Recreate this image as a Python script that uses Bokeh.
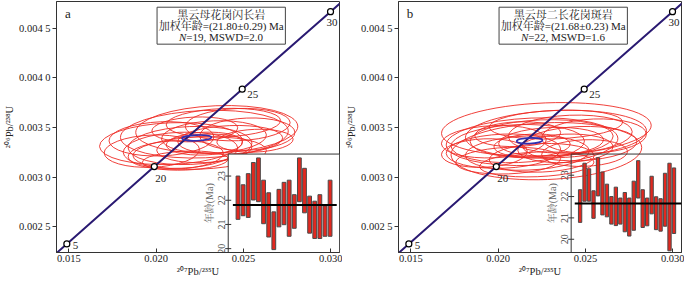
import math
from bokeh.plotting import figure
from bokeh.layouts import row
from bokeh.models import Range1d, FixedTicker, CustomJSTickFormatter, Label, BoxAnnotation
from bokeh.core.properties import value
from bokeh.embed import file_html
from bokeh.resources import INLINE

# ---------------- data ----------------
conc_x = [0.013883, 0.014882, 0.019892, 0.024927, 0.029986, 0.031001]
conc_y = [0.0021741, 0.0023296, 0.0031075, 0.0038855, 0.0046646, 0.0048205]
mark_labels = ["5", "20", "25", "30"]
mark_x = [0.014882, 0.019892, 0.024927, 0.029986]
mark_y = [0.0023296, 0.0031075, 0.0038855, 0.0046646]

x_ticks = [0.015, 0.020, 0.025, 0.030]
x_tick_labels = ["0.015", "0.020", "0.025", "0.030"]
y_ticks = [0.0025, 0.0030, 0.0035, 0.0040, 0.0045]
y_tick_labels = ["0.002 5", "0.003 0", "0.003 5", "0.004 0", "0.004 5"]
inset_y_ticks = [20, 21, 22, 23]

# panel a ellipses (207Pb/235U, 206Pb/238U, full widths)
a_ell_x = [0.02347, 0.02276, 0.02085, 0.02194, 0.02331, 0.02139, 0.02424, 0.02249, 0.02030, 0.02385,
           0.02522, 0.02221, 0.02112, 0.02276, 0.02467, 0.01975, 0.02566, 0.02167, 0.02276]
a_ell_y = [0.003481, 0.003433, 0.003338, 0.003319, 0.003405, 0.003271, 0.003376, 0.003243, 0.003386, 0.003548,
           0.003433, 0.003481, 0.003224, 0.003338, 0.003529, 0.003262, 0.003367, 0.003167, 0.003290]
a_ell_w = [0.00929, 0.00962, 0.00820, 0.00710, 0.00601, 0.00656, 0.00601, 0.00765, 0.00601, 0.00656,
           0.00546, 0.00492, 0.00546, 0.00437, 0.00601, 0.00546, 0.00437, 0.00492, 0.00546]
a_ell_h = [0.000476, 0.000476, 0.000419, 0.000381, 0.000324, 0.000362, 0.000286, 0.000324, 0.000343, 0.000286,
           0.000324, 0.000248, 0.000286, 0.000229, 0.000324, 0.000324, 0.000229, 0.000190, 0.000286]
a_mean_ell = (0.02232, 0.003395, 0.00169, 0.000057)

# panel b ellipses
b_ell_x = [0.02276, 0.02331, 0.02194, 0.02276, 0.02112, 0.02249, 0.02413, 0.02030, 0.02167, 0.02303, 0.02467,
           0.01975, 0.02249, 0.02112, 0.02385, 0.02549, 0.02194, 0.02057, 0.02331, 0.01921, 0.02495, 0.02221]
b_ell_y = [0.003481, 0.003433, 0.003357, 0.003262, 0.003338, 0.003386, 0.003433, 0.003262, 0.003243, 0.003357, 0.003338,
           0.003357, 0.003195, 0.003433, 0.003290, 0.003414, 0.003319, 0.003167, 0.003529, 0.003243, 0.003243, 0.003129]
b_ell_w = [0.01202, 0.01038, 0.00984, 0.01093, 0.00765, 0.00820, 0.00710, 0.00656, 0.00710, 0.00601, 0.00656,
           0.00601, 0.00601, 0.00492, 0.00546, 0.00601, 0.00437, 0.00601, 0.00765, 0.00492, 0.00492, 0.00656]
b_ell_h = [0.000533, 0.000476, 0.000476, 0.000571, 0.000381, 0.000381, 0.000381, 0.000343, 0.000343, 0.000286, 0.000343,
           0.000324, 0.000286, 0.000248, 0.000286, 0.000343, 0.000229, 0.000267, 0.000286, 0.000286, 0.000267, 0.000248]
b_mean_ell = (0.02180, 0.003367, 0.00148, 0.000057)

# inset ages (Ma): lower / upper ends of each bar
a_age_lo = [21.21, 21.36, 21.29, 22.01, 21.94, 21.03, 20.48, 19.96, 20.90, 20.99,
            20.51, 20.84, 21.94, 21.48, 20.64, 20.42, 20.42, 20.51, 20.51]
a_age_hi = [23.00, 22.64, 23.10, 23.56, 23.75, 22.83, 22.31, 21.52, 22.45, 22.74,
            22.83, 22.23, 23.75, 23.32, 22.17, 21.96, 22.23, 21.77, 22.83]
a_mean_age = 21.80
b_age_lo = [20.79, 21.78, 21.78, 20.98, 22.03, 21.14, 21.05, 20.71, 20.64, 20.71, 20.35,
            20.15, 20.42, 21.93, 20.55, 20.63, 21.19, 20.45, 20.38, 20.61, 19.46, 20.27]
b_age_hi = [22.32, 23.56, 23.30, 22.27, 23.82, 23.15, 22.58, 22.00, 22.44, 21.93, 22.19,
            21.93, 22.72, 23.68, 22.32, 21.93, 22.95, 21.99, 21.90, 23.09, 23.56, 23.34]
b_mean_age = 21.68

a_texts = ["黑云母花岗闪长岩", "加权年龄=(21.80±0.29) Ma", "N", "=19, MSWD=2.0"]
b_texts = ["黑云母二长花岗斑岩", "加权年龄=(21.68±0.23) Ma", "N", "=22, MSWD=1.6"]

# ---------------- styles / layout ----------------
X_RANGE = (0.01429, 0.0305)
Y_RANGE = (0.002243, 0.004767)
SERIF = "'Liberation Serif', 'Noto Serif CJK SC', 'Noto Sans CJK SC', serif"
RED = "#ee2b25"
CONC = "#2a1a72"
BLUE = "#2f2fb0"
AX = "#333333"

label_dx = [6, 1, 5, -4]
label_dy = [2, 12, 5, 11]


def extended_x(bx0, s0, s1):
    x0, x1 = X_RANGE
    f = (bx0 - x0) / (x1 - x0)
    return Range1d(s0 - f / (1 - f) * (s1 - s0), s1)


def extended_y(by1, t0, t1):
    y0, y1 = Y_RANGE
    g = (by1 - y0) / (y1 - y0)
    return Range1d(t0, t1 + (1 - g) / g * (t1 - t0))


def tick_formatter(vals, labels):
    return CustomJSTickFormatter(args=dict(vals=vals, labels=labels), code="""
        let best = 0, bd = Infinity;
        for (let i = 0; i < vals.length; i++) {
            const d = Math.abs(vals[i] - tick);
            if (d < bd) { bd = d; best = i; }
        }
        return labels[best];
    """)


def make_panel(letter, ex, ey, ew, eh, mean_ell, lo, hi, mean_age, texts,
               inset_left, inset_top, inset_xr, inset_yr, mean_span, white_inset):
    p = figure(width=342, height=281, output_backend="svg", toolbar_location=None,
               x_range=Range1d(*X_RANGE), y_range=Range1d(*Y_RANGE),
               min_border_left=50, min_border_right=3, min_border_top=1, min_border_bottom=29)
    p.background_fill_color = "white"
    p.border_fill_color = "white"
    p.outline_line_color = AX
    p.outline_line_width = 1
    p.grid.visible = False

    for ax in (p.xaxis[0], p.yaxis[0]):
        ax.axis_line_color = AX
        ax.major_tick_line_color = AX
        ax.minor_tick_line_color = None
        ax.major_label_text_font = SERIF
        ax.major_label_text_font_size = "10.5px"
        ax.major_label_text_color = "#222222"
        ax.axis_label_text_font = SERIF
        ax.axis_label_text_font_size = "10.5px"
        ax.axis_label_text_font_style = "normal"
        ax.axis_label_text_color = "#222222"
        ax.major_label_standoff = 2
        ax.axis_label_standoff = 1
    p.xaxis.ticker = FixedTicker(ticks=x_ticks)
    p.xaxis.formatter = tick_formatter(x_ticks, x_tick_labels)
    p.xaxis.major_tick_in = 4
    p.xaxis.major_tick_out = 0
    p.xaxis.axis_label = "²⁰⁷Pb/²³⁵U"
    p.yaxis.ticker = FixedTicker(ticks=y_ticks)
    p.yaxis.formatter = tick_formatter(y_ticks, y_tick_labels)
    p.yaxis.major_tick_in = 0
    p.yaxis.major_tick_out = 4
    p.yaxis.axis_label = "²⁰⁶Pb/²³⁸U"

    # data ellipses
    p.ellipse(x=ex, y=ey, width=ew, height=eh, angle=0.04,
              fill_color=None, line_color=RED, line_width=0.9)

    # inset ranges
    p.extra_x_ranges = {"ix": extended_x(inset_left, *inset_xr)}
    p.extra_y_ranges = {"iy": extended_y(inset_top, *inset_yr)}

    # inset box (background)
    p.quad(left=[inset_left], right=[X_RANGE[1]], bottom=[Y_RANGE[0]], top=[inset_top],
           fill_color="white" if white_inset else None, line_color=AX, line_width=1)

    # concordia
    p.line(conc_x, conc_y, line_color=CONC, line_width=2)
    p.ellipse(x=[mean_ell[0]], y=[mean_ell[1]], width=[mean_ell[2]], height=[mean_ell[3]],
              angle=0.04, fill_color=None, line_color=BLUE, line_width=1.6)
    p.scatter(mark_x, mark_y, marker="circle", size=6, fill_color="white",
              line_color="black", line_width=1.2)
    for i, t in enumerate(mark_labels):
        p.text(x=[mark_x[i]], y=[mark_y[i]], text=[t], x_offset=label_dx[i], y_offset=label_dy[i],
               text_font=value(SERIF), text_font_size="11px", text_color="#222222",
               text_align="left", text_baseline="middle")

    # inset bars
    idx = list(range(1, len(lo) + 1))
    p.vbar(x=idx, width=0.74, bottom=lo, top=hi, fill_color="#e2281f", line_color="#4a4a4a",
           line_width=1, x_range_name="ix", y_range_name="iy")
    p.line(x=list(mean_span), y=[mean_age, mean_age], line_color="black", line_width=2,
           x_range_name="ix", y_range_name="iy")
    ix0 = inset_xr[0]
    p.scatter(x=[ix0] * len(inset_y_ticks), y=inset_y_ticks, marker="dash", size=6,
              line_color=AX, x_range_name="ix", y_range_name="iy")
    p.text(x=[ix0] * len(inset_y_ticks), y=inset_y_ticks, text=[str(v) for v in inset_y_ticks],
           angle=math.pi / 2, x_offset=-3, text_font=value(SERIF), text_font_size="10px",
           text_color="#444444", text_align="center", text_baseline="bottom",
           x_range_name="ix", y_range_name="iy")
    p.text(x=[ix0], y=[(inset_yr[0] + inset_yr[1]) / 2], text=["年龄(Ma)"], angle=math.pi / 2,
           x_offset=-13, text_font=value(SERIF), text_font_size="10px", text_color="#666666",
           text_align="center", text_baseline="bottom", x_range_name="ix", y_range_name="iy")

    # annotation box
    p.add_layout(BoxAnnotation(left=0.02005, right=0.02740, bottom=0.004338, top=0.0047095,
                               fill_color="white", fill_alpha=1, line_color="#444444",
                               line_width=1, line_alpha=1))
    cx = 0.023725
    for t, yy in ((texts[0], 0.004633), (texts[1], 0.004519)):
        p.add_layout(Label(x=cx, y=yy, text=t, text_align="center", text_baseline="middle",
                           text_font=SERIF, text_font_size="11px", text_color="#222222"))
    p.add_layout(Label(x=cx, y=0.004405, text=texts[2], x_offset=-35, text_align="right",
                       text_baseline="middle", text_font=SERIF, text_font_size="11px",
                       text_font_style="italic", text_color="#222222"))
    p.add_layout(Label(x=cx, y=0.004405, text=texts[3], x_offset=-35, text_align="left",
                       text_baseline="middle", text_font=SERIF, text_font_size="11px",
                       text_color="#222222"))
    p.add_layout(Label(x=0.014945, y=0.004643, text=letter, text_align="center",
                       text_baseline="middle", text_font=SERIF, text_font_size="13px",
                       text_color="#222222"))
    return p


pa = make_panel("a", a_ell_x, a_ell_y, a_ell_w, a_ell_h, a_mean_ell, a_age_lo, a_age_hi, a_mean_age,
                a_texts, 0.024126, 0.003233, (-0.91, 20.84), (19.84, 23.91), (0.0, 20.3), True)
pb = make_panel("b", b_ell_x, b_ell_y, b_ell_w, b_ell_h, b_mean_ell, b_age_lo, b_age_hi, b_mean_age,
                b_texts, 0.024180, 0.003233, (-1.0, 23.68), (19.38, 23.99), (-0.2, 23.7), False)

layout = row(pa, pb)
open("out.html", "w").write(file_html(layout, INLINE))
